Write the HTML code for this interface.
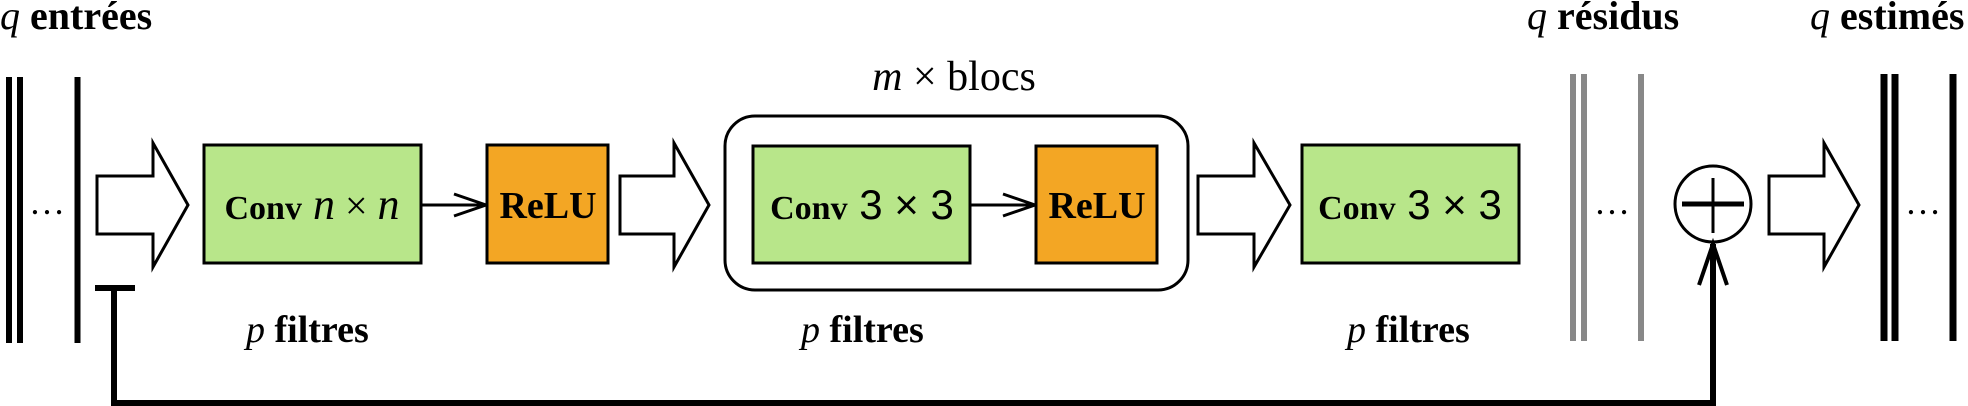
<!DOCTYPE html>
<html><head><meta charset="utf-8"><style>
html,body{margin:0;padding:0;background:#fff;}
svg{display:block;}
.t{font-family:"Liberation Serif",serif;fill:#000;}
</style></head><body>
<svg width="1968" height="406" viewBox="0 0 1968 406" xmlns="http://www.w3.org/2000/svg">
<!-- top labels -->
<text class="t" x="0" y="29" font-size="40"><tspan font-style="italic">q</tspan> <tspan font-weight="bold">entrées</tspan></text>
<text class="t" x="1527" y="29" font-size="40"><tspan font-style="italic">q</tspan> <tspan font-weight="bold">résidus</tspan></text>
<text class="t" x="1810" y="29" font-size="40"><tspan font-style="italic">q</tspan> <tspan font-weight="bold">estimés</tspan></text>
<text class="t" x="954" y="90" font-size="42" text-anchor="middle"><tspan font-style="italic">m</tspan> ×  blocs</text>

<!-- input stack -->
<g stroke="#000" stroke-width="6">
<line x1="9" y1="77" x2="9" y2="343"/><line x1="20" y1="77" x2="20" y2="343"/><line x1="77.5" y1="77" x2="77.5" y2="343"/>
</g>
<text class="t" x="47" y="214" font-size="36" text-anchor="middle">…</text>

<!-- arrows -->
<g fill="#fff" stroke="#000" stroke-width="3" stroke-linejoin="miter">
<polygon points="97,176 153,176 153,143 188,205 153,267 153,234 97,234"/>
<polygon points="620,176 674,176 674,143 709,205 674,267 674,234 620,234"/>
<polygon points="1198,176 1254,176 1254,143 1290,205 1254,267 1254,234 1198,234"/>
<polygon points="1769,176 1824,176 1824,143 1859,205 1824,267 1824,234 1769,234"/>
</g>

<!-- conv n x n -->
<rect x="204" y="145" width="217" height="118" fill="#b8e68a" stroke="#000" stroke-width="3"/>
<text class="t" x="312" y="219" font-size="34" text-anchor="middle"><tspan font-weight="bold">Conv</tspan><tspan font-style="italic" font-size="44"> n</tspan><tspan font-size="40"> × </tspan><tspan font-style="italic" font-size="44">n</tspan></text>
<g stroke="#000" stroke-width="3" fill="none">
<line x1="421" y1="205" x2="486" y2="205"/><polyline points="454,194 486,205 454,216"/>
</g>
<rect x="487" y="145" width="121" height="118" fill="#f3a624" stroke="#000" stroke-width="3"/>
<text class="t" x="548" y="218" font-size="38" font-weight="bold" text-anchor="middle">ReLU</text>

<!-- block -->
<rect x="725" y="116" width="463" height="174" rx="30" ry="30" fill="#fff" stroke="#000" stroke-width="3"/>
<rect x="753" y="146" width="217" height="117" fill="#b8e68a" stroke="#000" stroke-width="3"/>
<text class="t" x="862" y="219" font-size="34" text-anchor="middle"><tspan font-weight="bold">Conv</tspan><tspan font-family="Liberation Sans,sans-serif" font-size="42"> 3 × 3</tspan></text>
<g stroke="#000" stroke-width="3" fill="none">
<line x1="970" y1="205" x2="1035" y2="205"/><polyline points="1003,194 1035,205 1003,216"/>
</g>
<rect x="1036" y="146" width="121" height="117" fill="#f3a624" stroke="#000" stroke-width="3"/>
<text class="t" x="1097" y="218" font-size="38" font-weight="bold" text-anchor="middle">ReLU</text>

<!-- final conv -->
<rect x="1302" y="145" width="217" height="118" fill="#b8e68a" stroke="#000" stroke-width="3"/>
<text class="t" x="1410" y="219" font-size="34" text-anchor="middle"><tspan font-weight="bold">Conv</tspan><tspan font-family="Liberation Sans,sans-serif" font-size="42"> 3 × 3</tspan></text>

<!-- p filtres -->
<text class="t" x="246" y="342" font-size="38"><tspan font-style="italic">p</tspan> <tspan font-weight="bold">filtres</tspan></text>
<text class="t" x="801" y="342" font-size="38"><tspan font-style="italic">p</tspan> <tspan font-weight="bold">filtres</tspan></text>
<text class="t" x="1347" y="342" font-size="38"><tspan font-style="italic">p</tspan> <tspan font-weight="bold">filtres</tspan></text>

<!-- residual stack -->
<g stroke="#888" stroke-width="6">
<line x1="1573" y1="74" x2="1573" y2="341"/><line x1="1584" y1="74" x2="1584" y2="341"/><line x1="1641" y1="74" x2="1641" y2="341"/>
</g>
<text class="t" x="1612" y="214" font-size="36" text-anchor="middle">…</text>

<!-- sum node -->
<g stroke="#000" stroke-width="3" fill="#fff">
<circle cx="1713" cy="204" r="38"/>
<line x1="1682" y1="204" x2="1744" y2="204" stroke-width="5"/>
<line x1="1713" y1="178" x2="1713" y2="233"/>
</g>

<!-- skip connection -->
<g stroke="#000" stroke-width="6" fill="none">
<line x1="95" y1="288" x2="135" y2="288"/>
<polyline points="114,288 114,403 1713,403 1713,244"/>
<polyline points="1699,285 1713,244 1727,285" stroke-width="4"/>
</g>

<!-- output stack -->
<g stroke="#000" stroke-width="7">
<line x1="1884" y1="74" x2="1884" y2="341"/><line x1="1895" y1="74" x2="1895" y2="341"/><line x1="1953" y1="74" x2="1953" y2="341"/>
</g>
<text class="t" x="1923" y="214" font-size="36" text-anchor="middle">…</text>
</svg>
</body></html>
